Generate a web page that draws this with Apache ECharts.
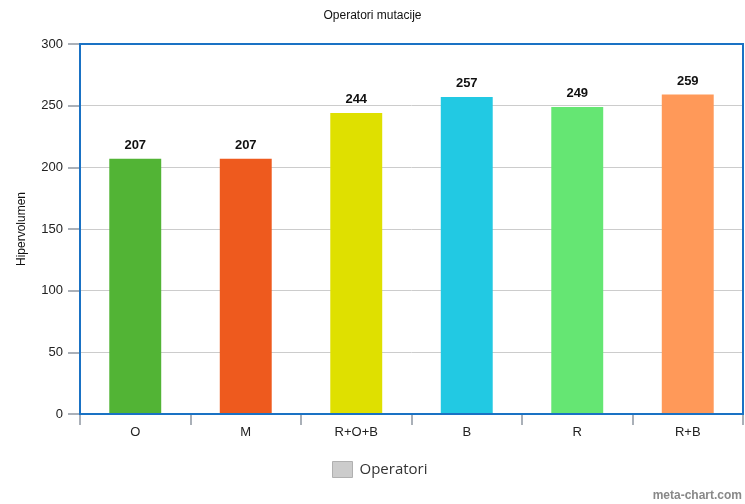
<!DOCTYPE html>
<html><head><meta charset="utf-8">
<script src="https://cdn.jsdelivr.net/npm/echarts@6/dist/echarts.min.js"></script>
<style>html,body{margin:0;padding:0;background:#fff}#c{width:745px;height:504px}</style>
</head><body><div id="c"></div>
<script>
const categories = ['O', 'M', 'R+O+B', 'B', 'R', 'R+B'];
const values = [207, 207, 244, 257, 249, 259];
const barColors = ['#52b435', '#ee5a1e', '#dfe000', '#22c9e3', '#65e673', '#ff9959'];
const yTicks = [0, 50, 100, 150, 200, 250, 300];

const chart = echarts.init(document.getElementById('c'));
chart.setOption({
  animation: false,
  title: { text: 'Operatori mutacije', left: 'center', top: 5,
    textStyle: { fontSize: 12, fontWeight: 'normal', color: '#111', fontFamily: 'Liberation Sans' } },
  grid: { left: 80, right: 2, top: 44, bottom: 90, show: true, borderColor: '#1a72c4', borderWidth: 2, backgroundColor: 'transparent', z: 3 },
  legend: { bottom: 21, left: 327, itemWidth: 20, itemHeight: 16, itemGap: 10, icon: 'rect',
    itemStyle: { color: '#cccccc', borderColor: '#b0b0b0', borderWidth: 1 },
    textStyle: { fontSize: 15, color: '#333', fontFamily: 'Open Sans', padding: [0, 0, 0, 2] }, data: ['Operatori'] },
  xAxis: { type: 'category', data: categories,
    axisLine: { show: false },
    axisTick: { show: true, length: 11, lineStyle: { color: '#aab0b8', width: 2 }, alignWithLabel: false },
    axisLabel: { fontSize: 13, color: '#222', margin: 12, fontFamily: 'Liberation Sans' } },
  yAxis: { type: 'value', min: yTicks[0], max: yTicks[yTicks.length - 1], interval: 50,
    name: 'Hipervolumen', nameLocation: 'middle', nameGap: 52, nameRotate: 90,
    nameTextStyle: { fontSize: 12, color: '#111', fontFamily: 'Liberation Sans' },
    axisLine: { show: false },
    axisTick: { show: true, length: 12, lineStyle: { color: '#aab0b8', width: 2 } },
    axisLabel: { fontSize: 13, color: '#222', margin: 17, fontFamily: 'Liberation Sans' },
    splitLine: { showMinLine: false, showMaxLine: false, lineStyle: { color: '#cccccc', width: 1 } } },
  series: [{
    name: 'Operatori', type: 'bar', barWidth: '47%',
    itemStyle: { color: '#cccccc' },
    data: values.map((v, i) => ({ value: v, itemStyle: { color: barColors[i] } })),
    label: { show: true, position: 'top', distance: 7, fontSize: 13, fontWeight: 'bold', color: '#111', fontFamily: 'Liberation Sans' }
  }],
  graphic: [{ type: 'text', right: 3, bottom: 2,
    style: { text: 'meta-chart.com', fontSize: 12, fontWeight: 'bold', fill: '#888', fontFamily: 'Liberation Sans' } }]
});
</script></body></html>
